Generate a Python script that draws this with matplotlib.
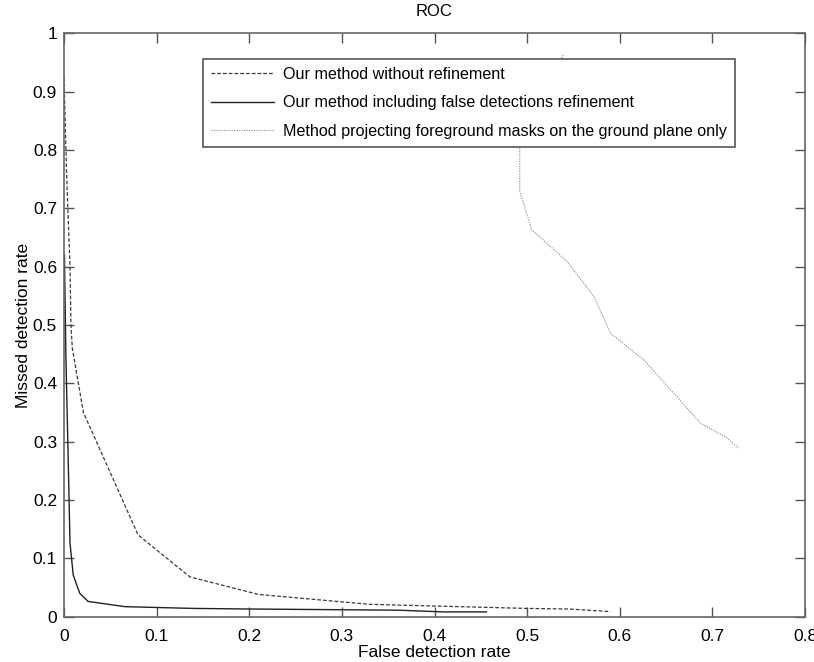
import matplotlib
matplotlib.use("Agg")
import matplotlib.pyplot as plt

# ROC points
fdr_plain = [0.0, 0.003, 0.0065, 0.0075, 0.009, 0.021, 0.08, 0.136, 0.21, 0.33, 0.5, 0.545, 0.59]
mdr_plain = [0.925, 0.75, 0.6, 0.50, 0.46, 0.35, 0.14, 0.068, 0.038, 0.021, 0.014, 0.013, 0.0085]

fdr_refined = [0.0005, 0.002, 0.004, 0.0065, 0.01, 0.017, 0.026, 0.066, 0.14, 0.2, 0.36, 0.41, 0.456]
mdr_refined = [0.62, 0.45, 0.31, 0.126, 0.071, 0.04, 0.026, 0.017, 0.014, 0.013, 0.011, 0.008, 0.008]

fdr_ground = [0.539, 0.515, 0.495, 0.492, 0.492, 0.505, 0.527, 0.543, 0.572, 0.59, 0.626, 0.687, 0.716, 0.728]
mdr_ground = [0.963, 0.90, 0.85, 0.812, 0.729, 0.663, 0.632, 0.609, 0.549, 0.486, 0.44, 0.332, 0.306, 0.289]

labels = ["Our method without refinement",
          "Our method including false detections refinement",
          "Method projecting foreground masks on the ground plane only"]

plt.rcParams["font.family"] = ["Liberation Sans", "DejaVu Sans"]

fig = plt.figure(figsize=(8.14, 6.62), dpi=100)
ax = fig.add_axes([0.0786, 0.0686, 0.9104, 0.8809])

ax.plot(fdr_plain, mdr_plain, color="#3a3a3a", lw=0.9, dashes=(3, 1.6), label=labels[0])
ax.plot(fdr_refined, mdr_refined, color="#222222", lw=1.0, label=labels[1])
ax.plot(fdr_ground, mdr_ground, color="#999999", lw=0.9, dashes=(1, 1), label=labels[2])

ax.set_xlim(0, 0.8)
ax.set_ylim(0, 1)
ax.set_xticks([0, 0.1, 0.2, 0.3, 0.4, 0.5, 0.6, 0.7, 0.8])
ax.set_xticklabels(["0", "0.1", "0.2", "0.3", "0.4", "0.5", "0.6", "0.7", "0.8"])
ax.set_yticks([i / 10 for i in range(11)])
ax.set_yticklabels(["0", "0.1", "0.2", "0.3", "0.4", "0.5", "0.6", "0.7", "0.8", "0.9", "1"])
ax.tick_params(direction="in", length=7, width=1, color="#555555", top=True, right=True,
               labelsize=12.5)
ax.tick_params(axis="x", pad=9)
ax.tick_params(axis="y", pad=5)
for s in ax.spines.values():
    s.set_color("#666666")
    s.set_linewidth(1.2)

ax.set_xlabel("False detection rate", fontsize=12.5, labelpad=1)
ax.set_ylabel("Missed detection rate", fontsize=12.5, labelpad=1)
ax.set_title("ROC", fontsize=12, pad=12.5)

leg = ax.legend(loc="upper left", bbox_to_anchor=(0.188, 0.957), fontsize=11.6,
                frameon=True, fancybox=False, borderpad=0.5, labelspacing=0.85,
                handlelength=3.9, handletextpad=0.55, borderaxespad=0)
leg.get_frame().set_edgecolor("#555555")
leg.get_frame().set_linewidth(1.2)
leg.get_frame().set_alpha(1)

fig.savefig("out.png", dpi=100)
